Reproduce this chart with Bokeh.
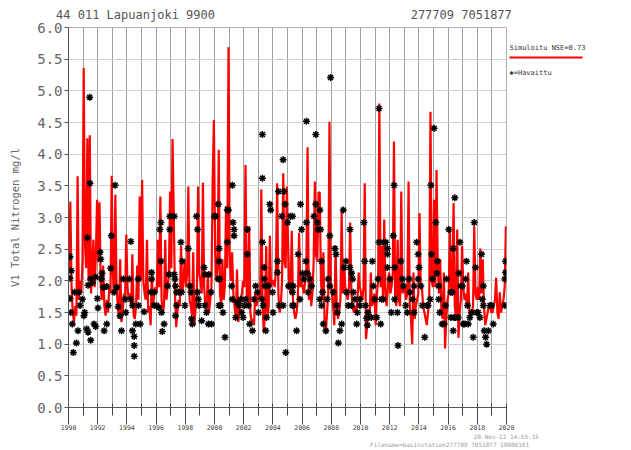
from bokeh.plotting import figure
from bokeh.models import (Range1d, SingleIntervalTicker, FixedTicker, LinearAxis,
                          PrintfTickFormatter)
from bokeh.embed import file_html
from bokeh.resources import INLINE

# ---------------- data ----------------
sim_years = list(range(1990, 2020))
# simulated total nitrogen, one value per month (Jan..Dec) for each year
sim_monthly = [
    [2.2, 3.25, 1.9, 1.5, 1.35, 1.6, 1.45, 3.65, 1.7, 2.0, 1.8, 2.3],   # 1990
    [5.36, 2.6, 2.2, 4.25, 2.0, 4.3, 1.8, 2.2, 2.65, 1.9, 2.4, 3.28],   # 1991
    [2.3, 3.24, 1.9, 1.7, 2.24, 1.6, 1.45, 1.7, 1.5, 1.9, 1.8, 3.66],   # 1992
    [2.1, 1.8, 3.36, 1.9, 1.6, 1.4, 2.34, 1.35, 1.5, 1.8, 1.7, 2.73],   # 1993
    [1.9, 1.7, 1.8, 1.6, 2.42, 1.45, 1.4, 1.6, 2.24, 1.7, 3.33, 2.0],   # 1994
    [3.59, 2.0, 1.8, 1.7, 2.65, 1.5, 1.6, 1.3, 2.13, 1.6, 1.8, 1.9],    # 1995
    [1.8, 2.65, 1.9, 3.33, 1.7, 1.5, 1.6, 2.65, 1.7, 1.9, 2.1, 3.41],   # 1996
    [2.2, 4.24, 3.07, 1.8, 1.27, 1.5, 1.7, 1.6, 2.55, 1.8, 2.0, 2.34],  # 1997
    [1.9, 2.1, 3.49, 1.7, 1.6, 1.45, 2.45, 1.3, 1.6, 1.8, 3.49, 2.1],   # 1998
    [2.0, 1.8, 3.55, 1.9, 1.6, 1.5, 2.13, 1.5, 1.7, 1.9, 3.6, 4.54],    # 1999
    [2.5, 2.0, 2.2, 4.07, 1.8, 1.6, 2.34, 1.7, 1.9, 3.18, 2.2, 5.69],   # 2000
    [2.4, 2.0, 2.45, 1.8, 1.6, 1.4, 2.18, 1.35, 1.5, 1.7, 1.8, 2.0],    # 2001
    [1.9, 3.83, 1.8, 1.6, 2.86, 1.5, 1.35, 1.4, 1.3, 1.82, 1.6, 1.7],   # 2002
    [1.8, 1.7, 3.44, 1.6, 1.19, 1.5, 2.55, 1.4, 1.6, 2.71, 1.9, 2.0],   # 2003
    [2.0, 1.9, 2.2, 3.54, 1.8, 1.5, 1.6, 2.0, 3.7, 2.3, 2.2, 3.49],     # 2004
    [2.55, 1.9, 1.8, 2.79, 1.7, 1.5, 1.4, 1.5, 1.7, 2.76, 1.9, 2.0],    # 2005
    [1.9, 1.8, 2.0, 2.2, 4.11, 1.7, 2.13, 1.6, 1.8, 2.3, 3.57, 2.4],    # 2006
    [2.3, 3.4, 3.39, 2.0, 1.7, 2.45, 1.3, 1.16, 1.5, 1.8, 4.51, 2.0],   # 2007
    [1.8, 1.6, 1.3, 2.55, 1.6, 1.4, 1.5, 1.7, 3.1, 1.8, 2.24, 1.9],     # 2008
    [1.8, 1.7, 1.9, 2.92, 1.8, 1.6, 1.5, 1.6, 1.5, 1.7, 2.13, 1.9],     # 2009
    [1.8, 1.7, 1.9, 3.54, 1.08, 1.3, 1.5, 1.4, 2.13, 1.6, 1.7, 1.8],    # 2010
    [1.3, 1.8, 2.0, 4.8, 1.9, 2.55, 1.7, 2.97, 1.8, 1.6, 1.9, 2.13],    # 2011
    [1.8, 1.9, 2.1, 4.2, 1.7, 1.6, 2.65, 1.7, 1.6, 3.41, 1.8, 1.88],    # 2012
    [1.9, 1.7, 1.8, 3.57, 1.6, 1.4, 1.0, 2.13, 1.4, 1.6, 1.7, 1.8],     # 2013
    [3.07, 1.9, 1.88, 1.6, 1.5, 1.4, 1.3, 1.5, 1.7, 4.67, 2.0, 1.9],    # 2014
    [3.28, 1.9, 3.75, 2.2, 1.8, 2.34, 1.5, 1.4, 2.13, 0.93, 1.4, 1.7],  # 2015
    [1.8, 2.82, 1.9, 1.8, 3.23, 1.6, 1.4, 2.81, 1.1, 1.5, 1.7, 2.55],   # 2016
    [1.9, 1.7, 1.8, 1.6, 2.13, 1.5, 1.4, 1.5, 1.6, 2.86, 1.8, 1.7],     # 2017
    [1.9, 1.7, 2.51, 1.8, 2.34, 1.6, 1.3, 1.4, 1.5, 1.6, 1.61, 1.5],    # 2018
    [1.5, 1.6, 1.7, 2.05, 1.5, 1.4, 1.82, 1.5, 1.6, 1.7, 1.9, 2.86],    # 2019
]

# observed samples: decimal year and concentration (mg/l)
obs_t = [
    1990.10, 1990.19, 1990.10, 1990.10, 1990.15, 1990.26, 1990.33, 1990.54, 1990.42, 1990.65,
    1990.72, 1990.79, 1990.95, 1991.11, 1991.06, 1991.25, 1991.34, 1991.52, 1991.34, 1991.29,
    1991.47, 1991.45, 1991.52, 1991.64, 1991.75, 1991.86, 1991.86, 1991.98, 1992.02, 1992.16,
    1992.21, 1992.30, 1992.25, 1992.39, 1992.44, 1992.62, 1992.62, 1992.73, 1992.89, 1992.94,
    1993.19, 1993.12, 1993.31, 1993.40, 1993.53, 1993.63, 1993.76, 1993.88, 1993.92, 1994.17,
    1994.27, 1994.27, 1994.38, 1994.38, 1994.50, 1994.50, 1994.50, 1994.61, 1994.77, 1994.79,
    1994.91,
    1995.18, 1995.69, 1995.69, 1995.64, 1995.87, 1995.87, 1996.03, 1996.19, 1996.33, 1996.26,
    1996.33, 1996.37, 1996.42, 1996.55, 1996.78, 1996.88, 1996.94, 1996.94, 1997.24, 1997.24,
    1997.29, 1997.33, 1997.40, 1997.40, 1997.33, 1997.56, 1997.70, 1997.79, 1997.74, 1997.97,
    1998.20, 1998.32, 1998.39, 1998.43, 1998.48, 1998.77, 1998.84, 1998.84, 1998.89, 1998.93,
    1999.12, 1999.28, 1999.35, 1999.62, 1999.35, 1999.46, 1999.58, 1999.76, 1999.80, 1999.99,
    2000.08, 2000.26, 2000.31, 2000.31, 2000.26, 2000.35, 2000.31, 2000.42, 2000.58, 2000.72,
    2000.88, 2000.88, 2000.95, 2001.22, 2001.27, 2001.34, 2001.34, 2001.18, 2001.22, 2001.45,
    2001.57, 2001.68, 2001.80, 2001.86, 2001.96, 2002.05, 2002.14, 2002.25, 2002.25, 2002.32,
    2002.41, 2002.60, 2002.71, 2002.82, 2002.94, 2003.01, 2003.28, 2003.28, 2003.28, 2003.40,
    2003.40, 2003.47, 2003.33, 2003.24, 2003.56, 2003.51, 2003.69, 2003.79, 2003.85, 2003.97,
    2004.01, 2004.31, 2004.31, 2004.38, 2004.43, 2004.61, 2004.70, 2004.77, 2004.84, 2004.70,
    2004.88, 2005.00, 2005.07,
    2005.20, 2005.20, 2005.34, 2005.34, 2005.34, 2005.39, 2005.43, 2005.62, 2005.73, 2005.85,
    2005.89, 2005.96, 2006.03, 2006.12, 2006.26, 2006.30, 2006.30, 2006.35, 2006.42, 2006.53,
    2006.65, 2006.81, 2006.94, 2006.94, 2007.04, 2007.10, 2007.22, 2007.22, 2007.26, 2007.33,
    2007.33, 2007.40, 2007.45, 2007.63, 2007.72, 2007.79, 2007.90, 2007.90, 2007.95, 2008.13,
    2008.25, 2008.32, 2008.36, 2008.41, 2008.48, 2008.59, 2008.71, 2008.82, 2008.87, 2009.00,
    2009.05, 2009.16, 2009.28, 2009.28, 2009.39, 2009.39, 2009.46, 2009.51, 2009.62, 2009.74,
    2009.78, 2009.96, 2009.96,
    2010.24, 2010.28, 2010.35, 2010.42, 2010.47, 2010.51, 2010.74, 2010.81, 2010.88, 2010.97,
    2011.11, 2011.20, 2011.27, 2011.27, 2011.38, 2011.43, 2011.57, 2011.57, 2011.73, 2011.84,
    2011.84, 2011.84, 2012.02, 2012.11, 2012.25, 2012.30, 2012.34, 2012.34, 2012.53, 2012.57,
    2012.76, 2012.87, 2012.94, 2013.10, 2013.21, 2013.33, 2013.40, 2013.56, 2013.67, 2013.67,
    2013.85, 2013.95, 2013.95, 2014.01, 2014.13, 2014.24, 2014.40, 2014.54, 2014.63, 2014.77,
    2014.82, 2014.86, 2014.93, 2015.04, 2015.16, 2015.23,
    2015.27, 2015.36, 2015.36, 2015.43, 2015.59, 2015.73, 2015.82, 2015.89, 2016.05, 2016.19,
    2016.19, 2016.28, 2016.35, 2016.35, 2016.42, 2016.46, 2016.51, 2016.69, 2016.74, 2016.81,
    2016.87, 2016.97, 2017.04, 2017.15, 2017.20, 2017.26, 2017.33, 2017.38, 2017.49, 2017.61,
    2017.72, 2017.79, 2017.88, 2017.95, 2018.06, 2018.18, 2018.29, 2018.41, 2018.34, 2018.41,
    2018.48, 2018.57, 2018.64, 2018.75, 2018.87, 2018.98, 2019.09, 2019.89, 2019.89, 2019.94,
    2019.94,
]
obs_v = [
    2.38, 2.16, 2.04, 1.72, 1.50, 1.32, 0.87, 1.02, 1.82, 1.21,
    1.82, 1.61, 1.71, 1.50, 1.45, 1.24, 1.19, 1.06, 1.93, 2.68,
    3.54, 4.90, 2.03, 1.97, 1.32, 1.28, 2.06, 1.72, 1.57, 2.45,
    2.34, 2.12, 2.03, 1.90, 1.21, 1.32, 1.91, 1.61, 2.20, 2.71,
    3.51, 1.82, 1.90, 1.59, 1.45, 1.21, 2.03, 1.71, 1.50, 2.03,
    2.62, 1.71, 1.61, 1.21, 1.12, 0.98, 0.81, 1.32, 2.03, 1.61,
    1.32,
    1.51, 2.13, 2.03, 1.82, 1.82, 1.61, 1.61, 1.58, 2.92, 2.81,
    2.31, 1.50, 1.20, 1.32, 1.92, 2.10, 3.02, 2.81, 3.02, 2.10,
    2.03, 1.92, 1.82, 1.61, 1.45, 1.82, 2.61, 2.31, 1.82, 1.61,
    2.51, 1.92, 1.82, 1.40, 1.32, 3.02, 2.81, 1.82, 1.71, 1.61,
    1.37, 2.21, 2.10, 2.10, 1.61, 1.50, 1.32, 1.82, 1.32, 3.02,
    3.02, 3.21, 2.51, 2.31, 2.03, 2.03, 1.61, 1.61, 1.50, 1.11,
    3.12, 2.61, 3.12, 3.51, 2.92, 2.81, 2.71, 1.92, 1.71, 1.42,
    1.66, 1.61, 1.71, 1.50, 1.42, 1.61, 1.71, 2.81, 2.42, 1.61,
    1.32, 1.21, 1.71, 1.92, 1.82, 1.50, 4.31, 3.62, 2.61, 2.21,
    2.03, 1.92, 1.61, 1.71, 1.42, 1.21, 1.92, 3.21, 3.12, 1.82,
    1.50, 2.31, 2.13, 3.41, 1.61, 3.02, 3.91, 3.41, 3.21, 1.61,
    0.87, 2.92, 1.92,
    3.02, 1.92, 3.02, 1.82, 1.61, 1.92, 1.61, 1.21, 2.42, 1.71,
    3.21, 2.81, 2.12, 2.03, 2.31, 2.92, 4.52, 2.12, 1.82, 2.03,
    1.92, 3.02, 4.31, 3.21, 2.92, 2.81, 3.12, 1.71, 2.81, 2.31,
    1.61, 1.82, 1.32, 1.21, 1.71, 2.03, 1.92, 2.71, 5.21, 1.82,
    2.51, 2.42, 1.61, 1.50, 1.02, 1.21, 1.32, 3.12, 2.21, 2.31,
    1.82, 1.61, 2.81, 2.21, 2.12, 1.61, 2.03, 1.82, 1.71, 1.32,
    1.50, 1.61, 1.71,
    2.92, 2.31, 1.61, 1.41, 1.30, 1.50, 1.42, 2.31, 1.92, 1.71,
    1.42, 2.03, 2.61, 4.72, 1.32, 1.71, 2.61, 1.71, 2.61, 2.51,
    2.42, 2.21, 2.03, 1.50, 2.71, 3.51, 2.21, 1.71, 1.50, 0.98,
    2.31, 2.03, 1.92, 1.61, 1.50, 2.03, 1.82, 1.71, 1.92, 1.50,
    2.61, 2.42, 2.03, 2.21, 1.92, 1.61, 1.11, 1.61, 1.61, 1.71,
    3.51, 2.42, 2.03, 4.41, 2.92, 2.12,
    2.31, 1.92, 1.71, 1.50, 1.32, 1.32, 1.61, 2.03, 2.81, 1.82,
    1.42, 1.82, 2.51, 1.21, 1.42, 3.31, 1.42, 1.42, 2.12, 2.61,
    1.92, 1.92, 1.32, 1.32, 2.03, 2.31, 1.61, 1.32, 1.42, 1.50,
    1.11, 2.92, 2.21, 1.50, 1.50, 1.42, 2.42, 1.92, 1.71, 1.61,
    1.21, 1.11, 1.00, 1.21, 1.61, 1.61, 1.32, 1.61, 2.03, 2.13,
    2.31,
]

y_ticks = [0.0, 0.5, 1.0, 1.5, 2.0, 2.5, 3.0, 3.5, 4.0, 4.5, 5.0, 5.5, 6.0]
x_label_years = list(range(1990, 2020, 2))
title_left = "44 011 Lapuanjoki 9900"
title_right = "277709 7051877"
y_title = "V1 Total Nitrogen mg/l"
sim_label = "Simuloitu NSE=0.73"
obs_label = "\u2731=Havaittu"
stamp = "28-Nov-22 14:55:16"
filename = "Filename=basinstation277709 7051877 19900101"

# positions (data units) where the surrounding texts are anchored
title_pos = [1994.59, 2016.9]
legend_pos = [5.67, 5.28]
legend_line_pos = [5.53]
stamp_pos = [2016.1, 2019.99]

sim_t = [yr + (m + 0.5) / 12.0 for yr in sim_years for m in range(12)]
sim_v = [v for row in sim_monthly for v in row]

# ---------------- figure ----------------
MONO = "DejaVu Sans Mono"
p = figure(width=631, height=450,
           x_range=Range1d(1990.0, 2020.0), y_range=Range1d(0.0, 6.0),
           output_backend="svg", toolbar_location=None,
           min_border_left=68, min_border_right=125,
           min_border_top=27, min_border_bottom=41)
p.background_fill_color = "white"
p.border_fill_color = "white"
p.outline_line_color = "#b0b0b0"

# left y axis
ya = p.left[0]
ya.ticker = FixedTicker(ticks=y_ticks)
ya.formatter = PrintfTickFormatter(format="%.1f")
ya.minor_tick_line_color = None
ya.major_tick_in = 0
ya.major_tick_out = 4
ya.major_label_standoff = 2
ya.axis_line_color = "#555555"
ya.major_tick_line_color = "#555555"
ya.major_label_text_font = MONO
ya.major_label_text_font_size = "14px"
ya.major_label_text_color = "#666666"
ya.axis_label = y_title
ya.axis_label_text_font = MONO
ya.axis_label_text_font_size = "10.5px"
ya.axis_label_text_font_style = "normal"
ya.axis_label_text_color = "#666666"
ya.axis_label_standoff = 13

# bottom x axis (years)
xa = p.below[0]
xa.ticker = SingleIntervalTicker(interval=2, num_minor_ticks=2)
xa.major_tick_in = 0
xa.major_tick_out = 17
xa.minor_tick_in = 4
xa.minor_tick_out = 8
xa.axis_line_color = "#555555"
xa.major_tick_line_color = "#444444"
xa.minor_tick_line_color = "#444444"
xa.major_label_text_align = "left"
xa.major_label_standoff = 0
xa.major_label_text_font = MONO
xa.major_label_text_font_size = "6.5px"
xa.major_label_text_color = "#444444"
xa.major_label_overrides = {yr: str(yr) for yr in x_label_years}


def text_axis(ticks, overrides, size, color, align="left", standoff=0):
    ax = LinearAxis(ticker=FixedTicker(ticks=ticks), major_label_overrides=overrides)
    ax.axis_line_color = None
    ax.major_tick_line_color = None
    ax.minor_tick_line_color = None
    ax.major_tick_in = 0
    ax.major_tick_out = 0
    ax.major_label_standoff = standoff
    ax.major_label_text_align = align
    ax.major_label_text_font = MONO
    ax.major_label_text_font_size = size
    ax.major_label_text_color = color
    return ax


# time stamp (first line) and file name (second line) below the year axis
p.add_layout(text_axis(stamp_pos,
                       {stamp_pos[0]: "\u00a0\n" + filename,
                        stamp_pos[1]: stamp + "\n\u00a0"},
                       "6px", "#9a9a9a"), "below")

# chart title texts above the frame
p.add_layout(text_axis(title_pos, {title_pos[0]: title_left, title_pos[1]: title_right},
                       "12px", "#555555", align="center", standoff=6), "above")

# right axis: legend texts with red line sample
ra = LinearAxis(ticker=FixedTicker(ticks=legend_pos, minor_ticks=legend_line_pos),
                major_label_overrides={legend_pos[0]: sim_label, legend_pos[1]: obs_label})
ra.axis_line_color = None
ra.major_tick_line_color = None
ra.major_tick_in = 0
ra.major_tick_out = 0
ra.minor_tick_in = -3
ra.minor_tick_out = 76
ra.minor_tick_line_color = "#ff0000"
ra.minor_tick_line_width = 2
ra.major_label_standoff = -73
ra.major_label_text_font = MONO
ra.major_label_text_font_size = "7px"
ra.major_label_text_color = "#333333"
p.add_layout(ra, "right")

# grids
p.xgrid.ticker = SingleIntervalTicker(interval=1, num_minor_ticks=0)
p.xgrid.grid_line_color = "#444444"
p.xgrid.grid_line_dash = "1 1"
p.xgrid.grid_line_width = 1
p.ygrid.ticker = FixedTicker(ticks=y_ticks)
p.ygrid.grid_line_color = "#d0d0d0"
p.ygrid.grid_line_width = 1

# data
p.line(sim_t, sim_v, line_color="#ff0000", line_width=2.2)
p.scatter(obs_t, obs_v, marker="asterisk", size=7, line_color="black", line_width=1.5)

open("out.html", "w").write(file_html(p, INLINE))
